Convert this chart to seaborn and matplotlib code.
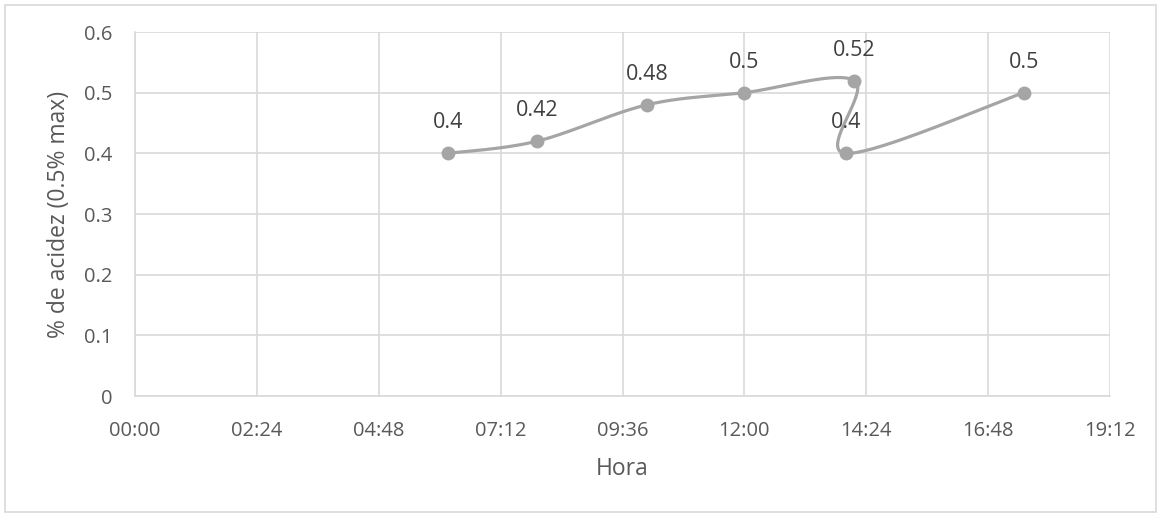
import numpy as np
import pandas as pd
import matplotlib
matplotlib.use("Agg")
import matplotlib.pyplot as plt
import seaborn as sns
from matplotlib.patches import Rectangle

# ---- data ----
hours = [6 + 10/60, 7 + 55/60, 10 + 5/60, 12.0, 14 + 10/60, 14.0, 17.5]
acidity = [0.40, 0.42, 0.48, 0.50, 0.52, 0.40, 0.50]
labels = ["0.4", "0.42", "0.48", "0.5", "0.52", "0.4", "0.5"]
x_ticks = [0, 2.4, 4.8, 7.2, 9.6, 12.0, 14.4, 16.8, 19.2]
x_tick_labels = ["00:00", "02:24", "04:48", "07:12", "09:36", "12:00", "14:24", "16:48", "19:12"]
y_ticks = [0, 0.1, 0.2, 0.3, 0.4, 0.5, 0.6]
y_tick_labels = ["0", "0.1", "0.2", "0.3", "0.4", "0.5", "0.6"]

sns.set_style("white")
plt.rcParams["font.family"] = ["Open Sans", "DejaVu Sans"]

W, H = 1163, 519
fig = plt.figure(figsize=(W / 100, H / 100), dpi=100)
ax_left, ax_bottom = 135 / W, (H - 396) / H
ax_w, ax_h = (1110 - 135) / W, (396 - 32) / H
ax = fig.add_axes([ax_left, ax_bottom, ax_w, ax_h])

gray_line = "#A5A5A5"
grid_c = "#D9D9D9"
text_c = "#595959"

xmin, xmax, ymin, ymax = 0, 19.2, 0, 0.6
ax.set_xlim(xmin, xmax)
ax.set_ylim(ymin, ymax)

# Excel-style smoothed line (Bezier through points, computed in pixel space)
sx = ax_w * W / (xmax - xmin)
sy = ax_h * H / (ymax - ymin)
P = np.column_stack([np.array(hours) * sx, np.array(acidity) * sy])
n = len(P)
curve = []
t = np.linspace(0, 1, 40)[:, None]
for i in range(n - 1):
    p0 = P[i - 1] if i > 0 else P[i]
    p1 = P[i]
    p2 = P[i + 1]
    p3 = P[i + 2] if i + 2 < n else P[i + 1]
    c1 = p1 + (p2 - p0) / 6
    c2 = p2 - (p3 - p1) / 6
    seg = ((1 - t) ** 3) * p1 + 3 * ((1 - t) ** 2) * t * c1 + 3 * (1 - t) * t ** 2 * c2 + t ** 3 * p2
    curve.append(seg if i == 0 else seg[1:])
curve = np.vstack(curve)
smooth = pd.DataFrame({"x": curve[:, 0] / sx, "y": curve[:, 1] / sy})

sns.lineplot(data=smooth, x="x", y="y", sort=False, estimator=None, ax=ax,
             color=gray_line, linewidth=2.3, zorder=3)
df = pd.DataFrame({"x": hours, "y": acidity})
sns.scatterplot(data=df, x="x", y="y", ax=ax, color=gray_line, s=100,
                edgecolor=gray_line, linewidth=0, zorder=4)

for xv, yv, lab in zip(hours, acidity, labels):
    ax.annotate(lab, (xv, yv), xytext=(0, 18), textcoords="offset points",
                ha="center", va="baseline", fontsize=15.5, color="#404040")

ax.set_xticks(x_ticks)
ax.set_xticklabels(x_tick_labels)
ax.set_yticks(y_ticks)
ax.set_yticklabels(y_tick_labels)
ax.tick_params(axis="both", length=0, labelsize=14.5, labelcolor=text_c)
ax.tick_params(axis="x", pad=18)
ax.tick_params(axis="y", pad=16.5)
ax.grid(True, color=grid_c, linewidth=1.2)
ax.set_axisbelow(True)
for s in ["top", "right"]:
    ax.spines[s].set_visible(False)
for s in ["left", "bottom"]:
    ax.spines[s].set_color(grid_c)
    ax.spines[s].set_linewidth(1.2)

ax.set_xlabel("Hora", fontsize=16.5, color=text_c)
ax.set_ylabel("% de acidez (0.5% max)", fontsize=16.5, color=text_c)
ax.xaxis.set_label_coords(0.5, -(469 - 396) / (396 - 32), transform=ax.transAxes)
ax.xaxis.label.set_va("center")
ax.yaxis.set_label_coords(-(135 - 59) / (1110 - 135), 0.5, transform=ax.transAxes)
ax.yaxis.label.set_va("center")

fig.patches.append(Rectangle((5 / W, 1 - 512 / H), 1151 / W, 507 / H,
                             transform=fig.transFigure, fill=False,
                             edgecolor="#D9D9D9", linewidth=1.2))

fig.savefig("out.png", dpi=100)
